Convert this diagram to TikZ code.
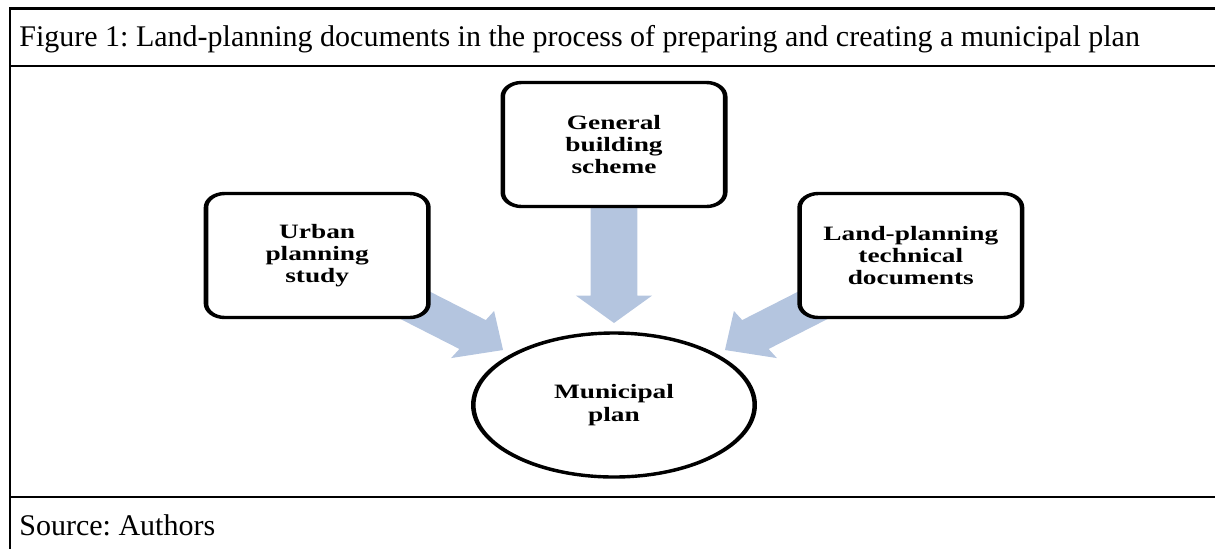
\documentclass[tikz,border=0pt]{standalone}
\usepackage{fontspec}
\setmainfont{Liberation Serif}
\usetikzlibrary{calc,shapes.geometric}
\definecolor{arrowfill}{RGB}{180,197,223}
\frenchspacing
\begin{document}
\begin{tikzpicture}[x=0.5pt,y=-0.5pt,
  rule/.style={line width=1.45pt},
  caption/.style={anchor=base west, inner sep=0pt, font=\fontsize{15}{18}\selectfont},
  docbox/.style={draw, line width=1.7pt, rounded corners=7pt, fill=white,
    minimum width=83pt, minimum height=62pt, inner sep=0pt, align=center,
    font=\fontsize{10.2}{11}\selectfont\bfseries},
  planoval/.style={ellipse, draw, line width=1.7pt, fill=white,
    minimum width=105pt, minimum height=72pt, inner sep=0pt, align=center,
    font=\fontsize{10.2}{11.5}\selectfont\bfseries},
  % block arrow from the start point to the target point (tip)
  blockarrow/.style={fill=arrowfill, to path={
    let \p1=(\tikztostart), \p2=(\tikztotarget),
        \n1={atan2(\y2-\y1,\x2-\x1)} in
    ($(\p1)+({\n1+90}:8.75pt)$)
    -- ($(\p2)+({\n1+180}:13.75pt)+({\n1+90}:8.75pt)$)
    -- ($(\p2)+({\n1+180}:13.75pt)+({\n1+90}:14.25pt)$)
    -- (\p2)
    -- ($(\p2)+({\n1+180}:13.75pt)+({\n1-90}:14.25pt)$)
    -- ($(\p2)+({\n1+180}:13.75pt)+({\n1-90}:8.75pt)$)
    -- ($(\p1)+({\n1-90}:8.75pt)$) -- cycle}}
]
\useasboundingbox (0,0) rectangle (1215,548);

% table frame
\draw[rule] (1225,8.5) -- (10,8.5) -- (10,560);
\draw[rule] (10,66) -- (1225,66);
\draw[rule] (10,497) -- (1225,497);

\node[caption] (title) at (19,46) {Figure 1: Land-planning documents in the process of preparing and creating a municipal plan};
\node[caption] (source) at (19,535) {Source: Authors};

\begin{scope}[transform canvas={shift={(614,0)}, xscale=1.34}]
  \coordinate (ubc) at (-221.5,255.5);
  \coordinate (gbc) at (0,144.5);
  \coordinate (lpc) at (221.5,255.5);
  \coordinate (mpc) at (0,405);
  \coordinate (tipL) at (-82.8,350);
  \coordinate (tipC) at (0,323);
  \coordinate (tipR) at (82.8,350);

  \path[blockarrow] (ubc) to (tipL);
  \path[blockarrow] (gbc) to (tipC);
  \path[blockarrow] (lpc) to (tipR);

  \node[docbox] (ub) at (ubc) {Urban\\planning\\study};
  \node[docbox] (gb) at (gbc) {General\\building\\scheme};
  \node[docbox] (lp) at (lpc) {Land-planning\\technical\\documents};
  \node[planoval] (mp) at (mpc) {Municipal\\plan};
\end{scope}
\end{tikzpicture}
\end{document}
